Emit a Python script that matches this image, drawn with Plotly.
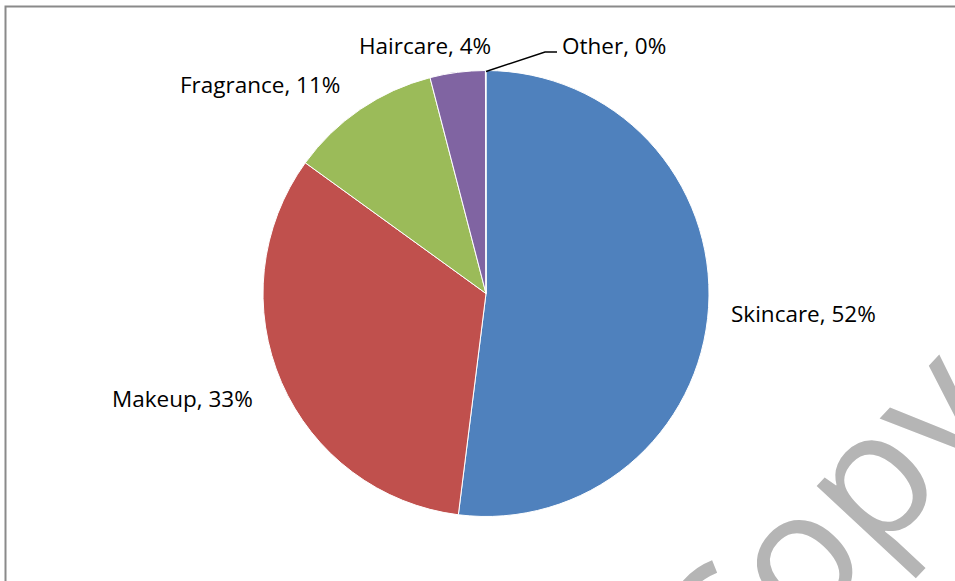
import plotly.graph_objects as go

W, H = 955, 581

categories = ["Skincare", "Makeup", "Fragrance", "Haircare", "Other"]
shares = [52.0, 33.0, 11.0, 4.0, 0.04]
colors = ["#4F81BD", "#C0504D", "#9BBB59", "#8064A2", "#4BACC6"]

# label anchor positions in pixels (left edge, vertical middle)
label_pos = [(729, 313), (110, 398), (178, 84), (357, 45), (560, 45)]

def px(x):
    return x / W

def py(y):
    return 1 - y / H

total = sum(shares)
label_text = [f"{c}, {round(v / total * 100):.0f}%" for c, v in zip(categories, shares)]

fig = go.Figure(go.Pie(
    labels=categories,
    values=shares,
    sort=False,
    direction="clockwise",
    rotation=0,
    marker=dict(colors=colors, line=dict(color="white", width=1)),
    textinfo="none",
    hoverinfo="label+percent",
    showlegend=False,
    domain=dict(x=[px(486 - 295), px(486 + 295)], y=[py(516.5), py(70.5)]),
))

annotations = []
for t, (x, y) in zip(label_text, label_pos):
    annotations.append(dict(
        x=px(x), y=py(y), xref="paper", yref="paper",
        text=t, showarrow=False, xanchor="left", yanchor="middle",
        font=dict(family="Open Sans", size=22.5, color="#000000"),
    ))

# watermark
annotations.append(dict(
    x=px(818), y=py(522), xref="paper", yref="paper",
    text="Copy", showarrow=False, textangle=-47,
    xanchor="center", yanchor="middle",
    font=dict(family="Open Sans", size=175, color="#b5b5b5"),
))

shapes = [
    dict(type="rect", xref="paper", yref="paper",
         x0=px(5.5), y0=py(H + 10), x1=px(W + 10), y1=py(6.5),
         line=dict(color="#8a8a8a", width=2), fillcolor="rgba(0,0,0,0)", layer="below"),
    dict(type="path", xref="paper", yref="paper",
         path=f"M {px(486)},{py(71.5)} L {px(545)},{py(52)} L {px(557)},{py(52)}",
         line=dict(color="#000000", width=1.5)),
]

fig.update_layout(
    width=W, height=H,
    margin=dict(l=0, r=0, t=0, b=0),
    paper_bgcolor="white",
    plot_bgcolor="white",
    annotations=annotations,
    shapes=shapes,
)

fig.write_html(
    "out.html",
    config={"displayModeBar": False},
    post_script="document.body.style.margin='0';document.body.style.overflow='hidden';",
)
